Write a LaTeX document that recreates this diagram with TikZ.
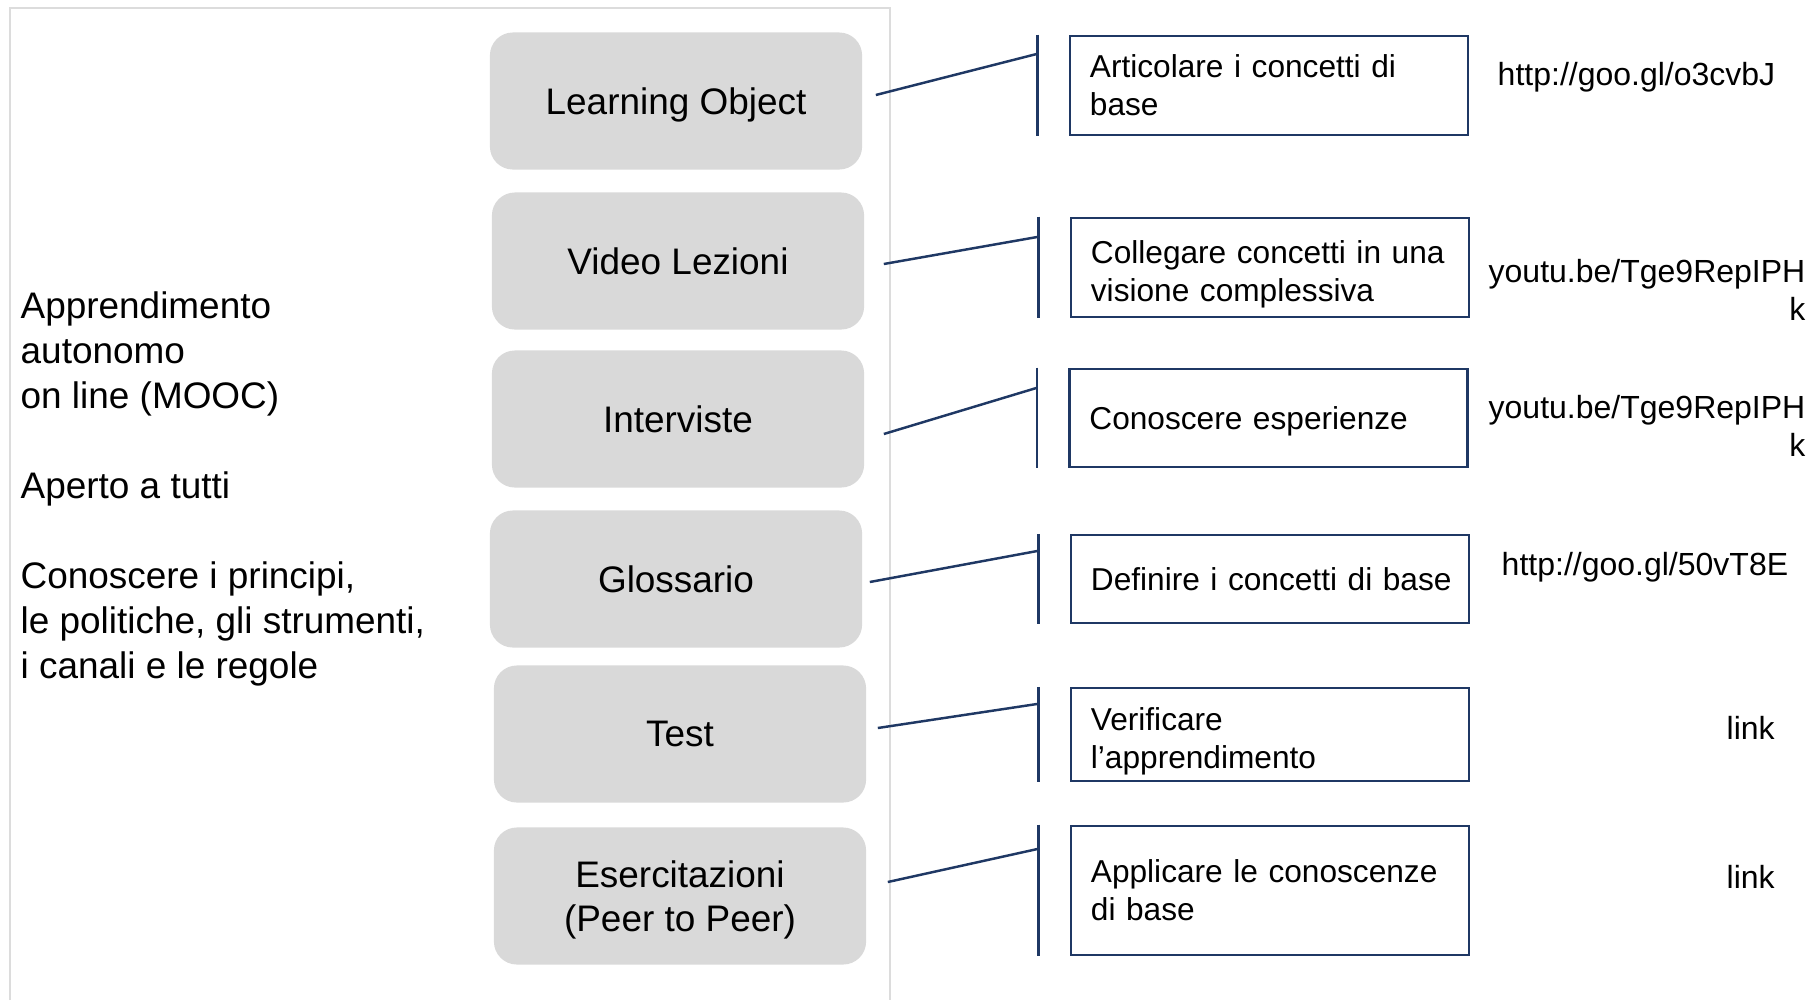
\documentclass[tikz,border=0pt]{standalone}
\usepackage{fontspec}
\setmainfont{Liberation Sans}
\usetikzlibrary{positioning}
\definecolor{navy}{RGB}{31,56,100}
\definecolor{boxgray}{RGB}{217,217,217}
\definecolor{framegray}{RGB}{220,220,220}

\begin{document}
\begin{tikzpicture}[
    x=0.01cm, y=-0.01cm,
    res/.style={rectangle, rounded corners=0.23cm, fill=boxgray, minimum width=3.72cm, minimum height=1.37cm, align=center, text depth=0pt, font=\fontsize{10.5}{12.5}\selectfont, inner sep=0pt},
    goal/.style={rectangle, draw=navy, line width=0.7pt, text width=3.58cm, inner xsep=0.2cm, inner ysep=0pt, align=left, font=\fontsize{9}{10.8}\selectfont},
    url/.style={font=\fontsize{9.1}{10.8}\selectfont, text depth=0pt, inner sep=0pt},
    tie/.style={draw=navy, line width=0.7pt},
]
\useasboundingbox (0,0) rectangle (1819,1000);

% Frame round the left part
\draw[framegray, line width=0.6pt] (10,1000) -- (10,8) -- (890,8) -- (890,1000);

% Left description
\node[anchor=west, align=left, inner sep=0pt, font=\fontsize{10.5}{12.8}\selectfont] (intro) at (20,489)
    {Apprendimento\\autonomo\\on line (MOOC)\\[0.45cm]Aperto a tutti\\[0.45cm]Conoscere i principi,\\le politiche, gli strumenti,\\i canali e le regole};

% Resources
\node[res] (obj) at (676,101) {Learning Object};
\node[res] (video) at (678,261) {Video Lezioni};
\node[res] (interv) at (678,419) {Interviste};
\node[res] (gloss) at (676,579) {Glossario};
\node[res] (test) at (680,734) {Test};
\node[res] (eserc) at (680,896) {Esercitazioni\\(Peer to Peer)};

% Goals
\node[goal, minimum height=0.99cm] (goal1) at (1269,85.5) {Articolare i concetti di\\base};
\node[goal, minimum height=0.99cm, text depth=8.8pt] (goal2) at (1270,267.5) {Collegare concetti in una\\visione complessiva};
\node[goal, minimum height=0.98cm, text depth=0pt] (goal3) at (1268.5,418) {Conoscere esperienze};
\node[goal, minimum height=0.88cm] (goal4) at (1270,579) {\mbox{Definire i concetti di base}};
\node[goal, minimum height=0.93cm, text depth=8.8pt] (goal5) at (1270,734.5) {Verificare\\l’apprendimento};
\node[goal, minimum height=1.29cm] (goal6) at (1270,890.5) {Applicare le conoscenze\\di base};

% Links
\node[url, anchor=west] (url1) at (1497,74) {http://goo.gl/o3cvbJ};
\node[url, anchor=east, align=right] (url2) at (1806,289.5) {youtu.be/Tge9RepIPH\\k};
\node[url, anchor=east, align=right] (url3) at (1806,426) {youtu.be/Tge9RepIPH\\k};
\node[url, anchor=west] (url4) at (1501,564) {http://goo.gl/50vT8E};
\node[url, anchor=west] (url5) at (1726,728) {link};
\node[url, anchor=west] (url6) at (1726,877) {link};

% Brackets
\draw[tie] ([xshift=-0.31cm]goal1.north west) -- ([xshift=-0.31cm]goal1.south west);
\draw[tie] ([xshift=-0.31cm]goal2.north west) -- ([xshift=-0.31cm]goal2.south west);
\draw[tie] ([xshift=-0.31cm]goal3.north west) -- ([xshift=-0.31cm]goal3.south west);
\draw[tie] ([xshift=-0.31cm]goal4.north west) -- ([xshift=-0.31cm]goal4.south west);
\draw[tie] ([xshift=-0.31cm]goal5.north west) -- ([xshift=-0.31cm]goal5.south west);
\draw[tie] ([xshift=-0.31cm]goal6.north west) -- ([xshift=-0.31cm]goal6.south west);

% Connectors
\coordinate (j1) at ([shift={(-31,19)}]goal1.north west);
\coordinate (j2) at ([shift={(-31,20)}]goal2.north west);
\coordinate (j3) at ([shift={(-31,20)}]goal3.north west);
\coordinate (j4) at ([shift={(-31,17)}]goal4.north west);
\coordinate (j5) at ([shift={(-31,17)}]goal5.north west);
\coordinate (j6) at ([shift={(-31,24)}]goal6.north west);
\draw[tie] ([shift={(13,-6)}]obj.east) -- (j1);
\draw[tie] ([shift={(19,3)}]video.east) -- (j2);
\draw[tie] ([shift={(19,15)}]interv.east) -- (j3);
\draw[tie] ([shift={(7,3)}]gloss.east) -- (j4);
\draw[tie] ([shift={(11,-6)}]test.east) -- (j5);
\draw[tie] ([shift={(21,-14)}]eserc.east) -- (j6);

\end{tikzpicture}
\end{document}
